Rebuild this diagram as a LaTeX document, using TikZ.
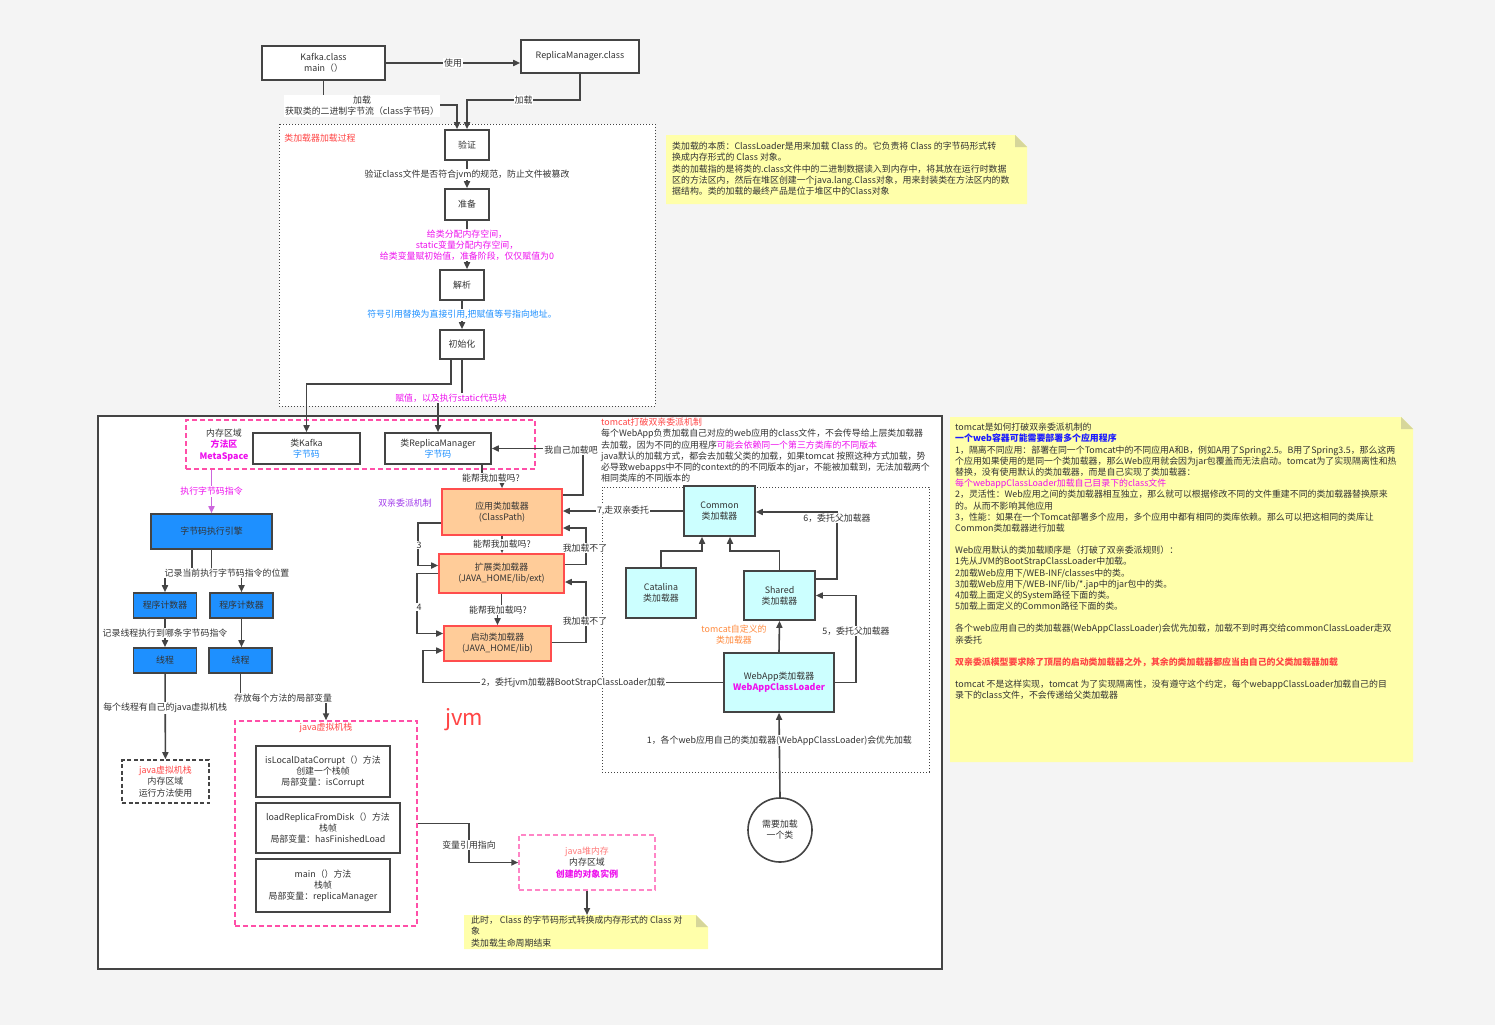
\documentclass[tikz,border=0pt]{standalone}
\usepackage{fontspec}
\setmainfont{Noto Sans CJK SC}
\usetikzlibrary{arrows.meta,positioning,calc}
\definecolor{pagegrey}{HTML}{F4F4F4}
\definecolor{linegrey}{HTML}{444444}
\definecolor{textgrey}{HTML}{333333}
\definecolor{noteyellow}{HTML}{FFFFAA}
\definecolor{notefold}{HTML}{D6D69A}
\definecolor{jvmpink}{HTML}{FF4FA8}
\definecolor{heappink}{HTML}{FF85C6}
\definecolor{jvmmagenta}{HTML}{EE11EE}
\definecolor{jvmblue}{HTML}{1E90FF}
\definecolor{jvmred}{HTML}{FF4545}
\definecolor{heapred}{HTML}{FF7A7A}
\definecolor{engineblue}{HTML}{1E90FF}
\definecolor{loaderorange}{HTML}{FFCC99}
\definecolor{loaderred}{HTML}{FF4D4D}
\definecolor{tomcatcyan}{HTML}{CCFFFF}
\definecolor{parentviolet}{HTML}{A23BEC}
\definecolor{tomcatorange}{HTML}{FF8A3D}
\definecolor{engineviolet}{HTML}{CC66DD}
\definecolor{webblue}{HTML}{1A1AFF}

\begin{document}
\begin{tikzpicture}[x=1pt,y=-1pt,
    font=\fontsize{8.9}{11.2}\selectfont, text=textgrey,
    box/.style={draw=linegrey,line width=1.6pt,fill=white,align=center,inner sep=1pt},
    sz/.style 2 args={minimum width=#1pt,minimum height=#2pt},
    loader/.style={box,draw=loaderred,fill=loaderorange},
    tcbox/.style={box,fill=tomcatcyan},
    engbox/.style={box,fill=engineblue},
    pinkbox/.style={draw=jvmpink,line width=1.5pt,dash pattern=on 5pt off 3pt,inner sep=0pt,align=center},
    lbl/.style={fill=white,inner sep=1pt,align=center},
    arr/.style={draw=linegrey,line width=1.6pt,-{Triangle[length=7pt,width=6pt]}},
    vioarr/.style={draw=engineviolet,line width=1.6pt,-{Triangle[length=7pt,width=6pt]}},
    dotline/.style={draw=linegrey,line width=1pt,dash pattern=on 1pt off 2pt},
    notetext/.style={anchor=north west,align=left,inner sep=0pt}]
    \fill[pagegrey] (0,0) rectangle (1495,1025);
    \useasboundingbox (0,0) rectangle (1495,1025);

    \fill[noteyellow] (666,135) -- (1015,135) -- (1027,147) -- (1027,204) -- (666,204) -- cycle;
    \fill[notefold] (1015,135) -- (1015,147) -- (1027,147) -- cycle;
    \fill[noteyellow] (950,417) -- (1401,417) -- (1413,429) -- (1413,762) -- (950,762) -- cycle;
    \fill[notefold] (1401,417) -- (1401,429) -- (1413,429) -- cycle;
    \draw[dotline,fill=white] (279,124) rectangle (655,406);
    \draw[draw=linegrey,line width=1.8pt,fill=white] (98,416) rectangle (942,969);
    \draw[dotline] (602,487) rectangle (929,772);
    \fill[noteyellow] (464,915) -- (696,915) -- (708,927) -- (708,949) -- (464,949) -- cycle;
    \fill[notefold] (696,915) -- (696,927) -- (708,927) -- cycle;

    \node[box,sz={123}{34}] (kafka) at (323.5,63) {Kafka.class\\main（）};
    \node[box,sz={118}{33}] (rmc) at (580,56.5) {ReplicaManager.class};
    \node[box,sz={44}{30}] (yz) at (467,145) {验证};
    \node[box,sz={44}{31}] (zb) at (467,204.5) {准备};
    \node[box,sz={44}{30}] (jx) at (462,285) {解析};
    \node[box,sz={44}{29}] (csh) at (462,344.5) {初始化};
    \node[text=jvmred] (loadtitle) at (320,138) {类加载器加载过程};
    \node[notetext] (essence) at (672,142) {类加载的本质：ClassLoader是用来加载 Class 的。它负责将 Class 的字节码形式转\\
        换成内存形式的 Class 对象。\\
        类的加载指的是将类的.class文件中的二进制数据读入到内存中，将其放在运行时数据\\
        区的方法区内，然后在堆区创建一个java.lang.Class对象，用来封装类在方法区内的数\\
        据结构。类的加载的最终产品是位于堆区中的Class对象};

    \node[pinkbox,sz={349}{49}] (ma) at (360.5,444.5) {};
    \node[align=center] (maname) at (224,445) {内存区域\\\textcolor{jvmmagenta}{\bfseries 方法区}\\\textcolor{jvmmagenta}{\bfseries MetaSpace}};
    \node[box,sz={107}{31}] (ckafka) at (306.5,448.5) {类Kafka\\\textcolor{jvmblue}{字节码}};
    \node[box,sz={106}{31}] (crm) at (438,448.5) {类ReplicaManager\\\textcolor{jvmblue}{字节码}};

    \node[loader,sz={120}{46}] (app) at (502,512) {应用类加载器\\(ClassPath)};
    \node[loader,sz={125}{39}] (ext) at (501.5,573.5) {扩展类加载器\\(JAVA\_HOME/lib/ext)};
    \node[loader,sz={107}{35}] (boot) at (497.5,643.5) {启动类加载器\\(JAVA\_HOME/lib)};
    \node[text=parentviolet] (parents) at (405,503) {双亲委派机制};

    \node[engbox,sz={121}{35}] (engine) at (211.5,531.5) {字节码执行引擎};
    \node[engbox,sz={63}{25}] (pc1) at (165,605.5) {程序计数器};
    \node[engbox,sz={63}{25}] (pc2) at (241.5,605.5) {程序计数器};
    \node[engbox,sz={63}{25}] (th1) at (165,660.5) {线程};
    \node[engbox,sz={63}{25}] (th2) at (240.5,660.5) {线程};
    \node[box,dash pattern=on 4pt off 2.5pt,sz={87}{43}] (jvs) at (165.5,781.5) {\textcolor{jvmred}{java虚拟机栈}\\内存区域\\运行方法使用};

    \node[pinkbox,sz={182}{205}] (stk) at (326,823.5) {};
    \node[text=jvmred] (stktitle) at (326,728) {java虚拟机栈};
    \node[box,sz={134}{51}] (frame1) at (323,771.5) {isLocalDataCorrupt（）方法\\创建一个栈帧\\局部变量：isCorrupt};
    \node[box,sz={144}{50}] (frame2) at (328,828) {loadReplicaFromDisk（）方法\\栈帧\\局部变量：hasFinishedLoad};
    \node[box,sz={134}{53}] (frame3) at (323,885.5) {main（）方法\\栈帧\\局部变量：replicaManager};
    \node[pinkbox,draw=heappink,fill=white,sz={136}{55}] (heap) at (587,862.5) {\textcolor{heapred}{java堆内存}\\内存区域\\\textcolor{jvmmagenta}{\bfseries 创建的对象实例}};
    \coordinate (endtop) at (587,915);
    \node[notetext] (endnote) at (471,916) {此时， Class 的字节码形式转换成内存形式的 Class 对\\象\\类加载生命周期结束};
    \node[text=jvmred,font=\fontsize{22}{24}\selectfont] (jvmtitle) at (464,720) {jvm};

    \node[notetext] (tomcatnote) at (601,418) {\textcolor{jvmred}{tomcat打破双亲委派机制}\\
        每个WebApp负责加载自己对应的web应用的class文件，不会传导给上层类加载器\\
        去加载，因为不同的应用程序\textcolor{jvmmagenta}{可能会依赖同一个第三方类库的不同版本}\\
        java默认的加载方式，都会去加载父类的加载，如果tomcat 按照这种方式加载，势\\
        必导致webapps中不同的context的的不同版本的jar，不能被加载到，无法加载两个\\
        相同类库的不同版本的};
    \node[tcbox,sz={71}{50}] (common) at (719.5,511) {Common\\类加载器};
    \node[tcbox,sz={70}{50}] (catalina) at (661,593) {Catalina\\类加载器};
    \node[tcbox,sz={71}{49}] (shared) at (779.5,595.5) {Shared\\类加载器};
    \node[tcbox,sz={110}{59}] (webapp) at (779,682.5) {WebApp类加载器\\\textcolor{jvmmagenta}{\bfseries WebAppClassLoader}};
    \node[text=tomcatorange,align=center] (custom) at (734,634.5) {tomcat自定义的\\类加载器};
    \node[draw=linegrey,line width=1.6pt,fill=white,circle,minimum size=64pt,align=center,inner sep=1pt] (needload) at (780,830) {需要加载\\一个类};

    \node[notetext] (howtomcat) at (955,423) {tomcat是如何打破双亲委派机制的\\
        \textcolor{webblue}{\bfseries 一个web容器可能需要部署多个应用程序}\\
        1，隔离不同应用：部署在同一个Tomcat中的不同应用A和B，例如A用了Spring2.5。B用了Spring3.5，那么这两\\
        个应用如果使用的是同一个类加载器，那么Web应用就会因为jar包覆盖而无法启动。tomcat为了实现隔离性和热\\
        替换，没有使用默认的类加载器，而是自己实现了类加载器：\\
        \textcolor{jvmmagenta}{每个webappClassLoader加载自己目录下的class文件}\\
        2，灵活性：Web应用之间的类加载器相互独立，那么就可以根据修改不同的文件重建不同的类加载器替换原来\\
        的。从而不影响其他应用\\
        3，性能：如果在一个Tomcat部署多个应用，多个应用中都有相同的类库依赖。那么可以把这相同的类库让\\
        Common类加载器进行加载\\[11pt]
        Web应用默认的类加载顺序是（打破了双亲委派规则）：\\
        1先从JVM的BootStrapClassLoader中加载。\\
        2加载Web应用下/WEB-INF/classes中的类。\\
        3加载Web应用下/WEB-INF/lib/*.jap中的jar包中的类。\\
        4加载上面定义的System路径下面的类。\\
        5加载上面定义的Common路径下面的类。\\[11pt]
        各个web应用自己的类加载器(WebAppClassLoader)会优先加载，加载不到时再交给commonClassLoader走双\\
        亲委托\\[11pt]
        \textcolor{jvmred}{\bfseries 双亲委派模型要求除了顶层的启动类加载器之外，其余的类加载器都应当由自己的父类加载器加载}\\[11pt]
        tomcat 不是这样实现，tomcat 为了实现隔离性，没有遵守这个约定，每个webappClassLoader加载自己的目\\
        录下的class文件，不会传递给父类加载器};

    \draw[arr] (kafka.east) -- node[lbl]{使用} (kafka.east -| rmc.west);
    \draw[arr] (kafka.south) |- ($(yz.north)+(-10,-24)$) -- ($(yz.north)+(-10,0)$);
    \draw[arr] (rmc.south) |- node[lbl,pos=0.75]{加载} ($(yz.north)+(0,-29)$) -- (yz.north);
    \draw[arr] (yz) -- node[lbl]{验证class文件是否符合jvm的规范，防止文件被篡改} (zb);
    \draw[arr] (zb.south) -- node[lbl,text=jvmmagenta]{给类分配内存空间，\\static变量分配内存空间，\\给类变量赋初始值，准备阶段，仅仅赋值为0} (zb.south |- jx.north);
    \draw[arr] (jx) -- node[lbl,text=jvmblue]{符号引用替换为直接引用,把赋值等号指向地址。} (csh);
    \draw[arr] ($(csh.south)+(-11,0)$) |- ($(ckafka.north)+(0,-48)$) -- (ckafka.north);
    \draw[arr] (csh.south) |- ($(crm.north)+(0,-35)$) -- (crm.north);

    \draw[arr] ($(crm.south)+(44,0)$) -- ++(0,14) -| (app.north);
    \draw[arr] ($(app.east)+(0,-17)$) -| ($(crm.east)+(91,0)$) -- (crm.east);
    \draw[arr] ($(app.west)+(0,11)$) -- ++(-23,0) |- ($(ext.west)+(0,-8)$);
    \draw[arr] (ext.west) -- ++(-21,0) |- ($(boot.west)+(0,-10)$);
    \draw[arr] ($(ext.east)+(0,-9)$) -- ++(21,0) |- ($(app.east)+(0,16)$);
    \draw[arr] ($(boot.east)+(0,-1)$) -- ++(34,0) |- ($(ext.east)+(0,8.5)$);
    \draw[arr] (app.south) -- node[lbl]{能帮我加载吗?} (app.south |- ext.north);
    \draw[arr] (ext.south) -- ++(0,17) -| (boot.north);
    \draw[arr] (common.west) -- node[lbl]{7,走双亲委托} (common.west -| app.east);
    \draw[arr] (webapp.west) -- node[lbl]{2，委托jvm加载器BootStrapClassLoader加载} ++(-300,0) |- ($(boot.west)+(0,7)$);

    \draw[arr] (catalina.north) -- ++(0,-16) -| ($(common.south)+(-17.5,0)$);
    \draw[arr] (shared.north) -- ++(0,-19) -| ($(common.south)+(10.5,0)$);
    \draw[arr] ($(shared.east)+(0,-16.5)$) -- ++(21,0) |- ($(common.east)+(0,1)$);
    \draw[arr] (webapp.east) -- ++(21,0) |- (shared.east);
    \draw[arr] (webapp.north) -- (shared.south);
    \draw[arr] (needload.north) -- node[lbl,pos=0.67]{1，各个web应用自己的类加载器(WebAppClassLoader)会优先加载} (webapp.south);

    \draw[vioarr] (ma.south west -| engine.north) -- node[lbl,text=jvmmagenta]{执行字节码指令} (engine.north);
    \draw[arr] ($(engine.south)+(-19.5,0)$) -- ++(0,22) -| (pc1.north);
    \draw[arr] (engine.south) -- ++(0,24) -| (pc2.north);
    \draw[arr] (pc1) -- node[lbl]{记录线程执行到哪条字节码指令} (th1);
    \draw[arr] (pc2.south) -- (pc2.south |- th2.north);
    \draw[arr] (th1) -- node[lbl,pos=0.4]{每个线程有自己的java虚拟机栈} (jvs);
    \draw[arr] (th2.south) -- ++(0,25) -| (stk.north);
    \draw[arr] (stk.east) -- ++(51,0) |- (heap.west);
    \draw[arr] (heap.south) -- (endtop);

    \node[lbl] (getbytes) at (362,106) {加载\\获取类的二进制字节流（class字节码）};
    \node[lbl,text=jvmmagenta] (assign) at (451,398) {赋值，以及执行static代码块};
    \node[lbl] (canload) at (491,478) {能帮我加载吗?};
    \node[lbl] (canload2) at (498,610) {能帮我加载吗?};
    \node[lbl] (selfload) at (571,450) {我自己加载吧};
    \node[lbl] (step3) at (419,545) {3};
    \node[lbl] (step4) at (419,607) {4};
    \node[lbl] (cannot1) at (585,548) {我加载不了};
    \node[lbl] (cannot2) at (585,621) {我加载不了};
    \node[lbl] (step6) at (837,518) {6，委托父加载器};
    \node[lbl] (step5) at (856,631) {5，委托父加载器};
    \node[lbl] (pcpos) at (227,573) {记录当前执行字节码指令的位置};
    \node[lbl] (localvar) at (283,698) {存放每个方法的局部变量};
    \node[lbl] (varref) at (469,845) {变量引用指向};
\end{tikzpicture}
\end{document}
